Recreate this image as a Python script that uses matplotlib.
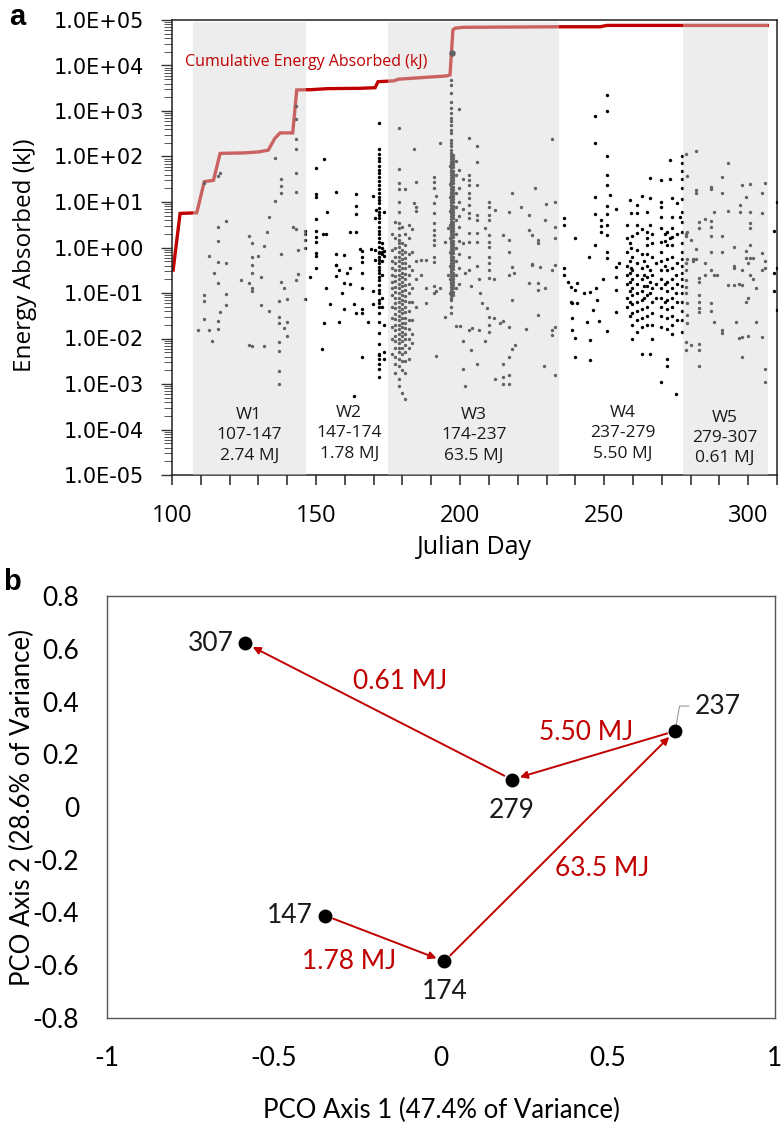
import numpy as np
import matplotlib.pyplot as plt
from matplotlib.ticker import MultipleLocator, LogLocator, FuncFormatter, NullFormatter

plt.rcParams['font.family'] = ['Open Sans', 'DejaVu Sans']

RED = '#C00000'

# ---- panel a: energy absorbed per event, log10(kJ) values by Julian day ----
# one line per day: "day: log10 values"
W1_PTS = """
109: -1.81
111: 1.42 -1.04 -1.18 -1.58
112.7: -0.19 -1.81
113.9: -2.05
114.7: -0.57
115.9: 1.58 0.44 0.14 -0.31 -0.77 -1.62 -1.8
116.8: 1.63 -1.41
118.7: 0.58 -0.35 -1.03 -1.26
124: -0.71
126.9: 0.25 -0.79 -2.14
127.8: 0.09 -0.2 -0.38 -0.55 -0.9 -0.95 -2.16
129.7: -0.19
130.9: -0.64 -1.26
131.8: 0.03 -2.16
133: 0.33
133.8: 0.68 -1.4
135.8: 1.97 1.02
137: -1.18 -1.52 -1.67 -2.07 -2.27 -2.71 -3.0
137.8: 1.5 1.35 1.2 -0.14 -0.75
139: -0.9 -1.76
139.8: -1.14 -1.63 -1.95
142: 0.44
143: 3.1 2.82 2.38 2.16 1.64 1.22 0.4 -0.71
143.9: -0.05 -0.59
146: -0.02 0.17 0.29 0.37 -1.14
"""

W2_PTS = """
148: -0.64
150: 1.74 1.17 1.12 0.63 0.36 0.24 0.13 -0.11 -0.19 -0.44
152.1: -2.23
152.3: 0.3
152.9: 1.94 -1.67
153.5: 0.3 -0.88
153.9: 0.77
154.9: -1.24
156.8: 1.21 -0.14 -0.38 -0.39 -0.63
158.1: -0.5 -1.63
159: -0.99
159.7: -0.16 -0.79 -1.36
160.9: -0.55
161.7: 0.33 -0.44
161.9: -0.8
163: -1.25 -3.26
163.8: 1.18 0.92 0.74 0.33 -1.45
165.2: -0.04
165.9: -0.55 -1.36 -1.45 -2.4
166: -0.07 -0.2 -0.31 -0.9
167.9: -1.63
169: -0.04
169.9: 1.14 -0.95 -1.24
170.5: 0.65 -0.05 -0.28
170.8: 0.83
172: 2.74 2.16 2.05 1.96 1.9 1.8 1.7 1.63 1.56 1.47 1.38 1.29 1.2 1.12 1.04 0.97 0.86 0.79 0.71 0.64 0.55 0.46 0.37 0.3 0.2 0.13 0.02 -0.09 -0.13 -0.2 -0.27 -0.35 -0.42 -0.5 -0.57 -0.64 -0.71 -0.82 -0.93 -1.0 -1.15 -1.23 -1.3 -1.45 -1.63 -1.89 -2.11 -2.33 -2.36 -2.44 -2.55 -2.66 -2.84
172.8: 0.1 0.0 -0.1 -0.15 -0.3 -0.6 -1.1 -1.3
173.5: 0.78 -0.07 -0.18 -1.7 -2.3 -2.45
"""

W3_PTS = """
176.4: 0.3 -0.05 -0.3 -0.45 -0.6 -0.75 -0.9 -1.05 -1.3 -1.55 -1.75 -2.0 -2.35
177.5: 0.55 0.2 0.0 -0.2 -0.35 -0.5 -0.62 -0.74 -0.86 -0.98 -1.1 -1.22 -1.34 -1.46 -1.58 -1.7 -1.82 -1.94 -2.06 -2.2 -2.4 -2.55 -2.75
178.7: 2.62 1.72 1.42 1.29 0.99 0.79 0.53 0.42 0.27 0.16 0.09 0.02 -0.09 -0.2 -0.3 -0.4 -0.5 -0.6 -0.7 -0.8 -0.9 -1.0 -1.1 -1.2 -1.3 -1.4 -1.5 -1.6 -1.7 -1.8 -1.9 -2.0 -2.1 -2.2 -2.3 -2.45 -2.6 -2.9 -3.05
179.9: 0.45 0.1 -0.05 -0.15 -0.25 -0.35 -0.45 -0.55 -0.65 -0.75 -0.85 -0.95 -1.05 -1.15 -1.25 -1.35 -1.45 -1.55 -1.65 -1.75 -1.85 -1.95 -2.05 -2.2 -2.35 -2.5 -2.7 -3.2
181: 1.29 0.3 0.05 -0.1 -0.22 -0.34 -0.46 -0.58 -0.7 -0.82 -0.94 -1.06 -1.18 -1.3 -1.42 -1.54 -1.66 -1.78 -1.9 -2.02 -2.14 -2.3 -2.5 -2.75 -3.32
182.2: 0.5 0.2 -0.15 -0.4 -0.6 -0.8 -1.0 -1.2 -1.4 -1.6 -1.8 -2.0 -2.2 -2.45
183.3: 0.4 -0.1 -0.5 -0.9 -1.2 -1.6 -1.9 -2.1
184: 2.17 0.97
184.8: 1.45 0.9 0.81 -0.3 -0.7 -1.3
186.6: -0.27 -0.6
188: -1.23
188.2: -0.27 -0.9
190.9: 1.54 1.45 1.3 0.97 0.75 0.53 0.39 0.28 0.16 0.05 -0.2 -0.31 -0.85 -1.0
191.7: 1.13 -0.95 -2.38
193: 2.3 -0.9
194.9: 0.13 -1.52
195.8: 0.42 -0.6
196.4: 1.8 1.4 1.1 0.8 0.5 0.2 -0.1 -0.4 -0.7 -1.0
197: 3.68 3.57 3.39 3.2 3.06 2.95 2.84 2.77 2.7 2.59 2.51 2.36 2.29 2.22 2.14 2.07 2.01 1.95 1.89 1.83 1.77 1.71 1.65 1.59 1.53 1.47 1.41 1.35 1.29 1.23 1.17 1.11 1.05 0.99 0.93 0.87 0.81 0.75 0.69 0.63 0.57 0.51 0.45 0.39 0.33 0.27 0.21 0.15 0.09 0.03 -0.03 -0.09 -0.15 -0.21 -0.27 -0.33 -0.39 -0.45 -0.51 -0.57 -0.63 -0.69 -0.75 -0.81 -0.87 -0.93 -0.99 -1.05 -1.11 -1.15 -1.3 -1.45
197.7: 2.04 1.97 1.9 1.83 1.76 1.69 1.62 1.55 1.48 1.41 1.34 1.27 1.2 1.13 1.06 0.99 0.92 0.85 0.78 0.71 0.64 0.57 0.5 0.43 0.36 0.29 0.22 0.15 0.08 0.01 -0.06 -0.13 -0.2 -0.27 -0.34 -0.41 -0.48 -0.55 -0.62 -0.69 -0.76 -0.83 -0.9 -0.97 -1.04
198.5: 1.9 1.6 1.2 0.9 0.6 0.3 0.0 -0.3 -0.6 -0.9 -1.73
199.5: 3.04 1.7 1.3 1.0 0.7 0.45 0.15 -0.15 -0.45 -0.8
200.1: -1.73
200.9: 1.5 0.85 0.1 -2.05 -2.66
201.8: -0.55 -3.04
203: 2.4 1.59 1.48 1.37 1.19 1.08 0.94 0.75 0.64 0.31 0.13 -0.2 -0.5 -1.81
203.9: -0.85 -2.25
204.2: -1.78
206: 2.22 1.87 1.37 0.71 0.6 0.31 0.13 -0.4 -2.56
206.7: -0.7 -1.81
207: -1.01
207.6: -1.23
208.6: 0.42
208.8: -2.05
209.4: -1.34
210: 0.99 0.9 0.71 0.6 0.27 0.13 0.02 -0.2 -0.35 -0.5 -0.68 -1.52 -1.7 -1.85
211.8: -0.7 -1.56
212: 0.82 -2.9
213.8: -1.67
214.8: 0.27 -1.62 -2.55 -2.84 -3.0
216.9: -0.6 -1.74 -2.4 -2.8 -2.99
217: 0.79 0.16 -0.09
218: 1.19 -0.42 -1.15 -2.22
218.6: -0.57
219.2: -2.14
221: 0.88
223: -1.8
223.8: -0.79
224: 0.71 0.38
225: 0.28 -0.36 -0.39
226: 1.3
227: 0.16 0.09 -0.79 -0.93 -1.48
227.9: -0.42
229: -2.6
229.6: 0.6 -0.9
229.9: 0.96
231.9: -0.5 -1.81 -1.92
232: 2.39
232.9: -0.38
233: 1.01 0.45 0.2 -1.74 -2.8
"""

W4_PTS = """
236: 0.64 0.5 -0.46 -0.6
237.5: -0.75
238.4: -0.86 -1.19
239: -1.23 -1.56 -1.81
240: 0.2 -0.93 -1.99 -2.4
240.6: -0.77 -1.23
243: -0.99
244.1: -1.63
244.9: -0.2
245: -0.97 -2.03 -2.47
246.2: -1.37
246.9: 2.88 2.3 1.12 0.73 0.05
247: -0.9
247.6: -1.15
248.2: -1.61
248.9: 0.6 0.48 0.35
249.5: -0.7
251: 3.36 2.99 2.0 1.59 1.37 0.91 0.73 0.5 0.27 -0.09 -0.24 -1.84
252.2: 1.15
254: 0.84 -0.42 -0.64 -0.93 -1.41
255: -0.35
258: 0.5 0.2 -0.1 -0.4 -0.6 -0.8 -1.1 -1.3
258.9: 1.04 0.1 -0.3 -0.55 -0.75 -0.95 -1.2 -1.5
259.2: 0.75 -0.02 -0.45
259.7: 0.25 -0.2 -0.5 -0.7 -0.9 -1.05 -1.25 -1.45 -1.7 -2.0
261.5: 0.93 0.75 0.5 0.31 -0.05 -0.35 -0.6 -0.8 -1.0 -1.2 -1.4 -1.6 -1.85
263: 1.13 0.4 -0.15 -0.45 -0.7 -0.95 -1.15 -1.35 -1.55 -1.75 -2.33
264: -0.3 -0.6 -0.85 -1.1
265: 0.77 0.35 0.2 0.05 -0.15 -0.4 -0.65 -0.85 -1.05 -1.3 -1.5 -1.7
265.9: 1.52 1.08 0.5 -0.5 -0.75 -1.0 -2.33
266.7: 0.3 0.1 -0.2 -0.6 -0.9 -1.2 -1.45 -1.7 -2.0
268: -0.35 -0.8 -1.1
269.9: 1.48 1.01 0.9 0.68 0.42 0.12 -0.1 -0.3 -0.5 -0.7 -0.9 -1.1 -1.3 -1.5 -1.75 -2.96
271: 0.3 0.15 -0.4 -0.8 -1.2
271.9: 0.35 0.05 -0.25 -0.5 -0.75 -0.95 -1.15 -1.35 -1.55 -1.8 -2.44 -2.6
272.7: 1.92 1.5 0.2
273.6: 1.09 0.68 0.42 0.24 0.06 -0.2 -0.45 -0.7 -0.9 -1.1 -1.3 -1.5 -1.7 -1.9
274.8: -0.6 -1.0 -3.21
275.4: 0.97 0.3 -0.35 -0.8 -1.2 -1.6
276.2: 0.68
276.9: 2.0 1.86 1.68 1.5 1.31 1.06 0.77 0.55 0.33 0.1 -0.1 -0.25 -0.4 -0.55 -0.7 -0.85 -1.0 -1.2 -1.4 -1.6 -1.85
"""

W5_PTS = """
278.3: 2.06 0.3 0.25 -0.35 -0.5 -0.71 -0.86 -1.0 -2.07 -2.25
278.8: 1.57 0.35 -0.25 -1.23 -1.48 -1.67
280: 0.16 -2.14
280.8: -0.25 -0.3
282: 2.12 1.26 1.2 -0.04 -0.26
283: 0.57 0.42 -0.68 -0.75 -1.04 -1.19 -1.34 -1.41 -2.11 -2.25 -2.6
285: 0.62 -0.35 -0.6
287: 1.34 1.28 0.58 0.46 0.26 -0.09 -0.5 -1.23 -1.4
288: 0.79 -0.6 -1.63
289: -0.6
291: 1.54 1.2 0.26 -0.1 -1.81 -1.89
293: 1.86 0.8 -0.82
295: 0.02 -0.4 -0.44 -0.82
295.6: -1.63
296.8: -0.8 -1.99
297.3: 0.93 0.77
298: 1.37 -0.5 -0.82 -1.96 -2.4
299.1: 1.12 -0.07 -0.24 -1.2
300: -0.35 -1.1 -1.94
300.8: 1.39 0.79 0.53 0.42 0.05 -0.24 -0.6
301.5: -0.24 -0.7
302.6: -0.9 -1.63
304.9: 1.2 0.75 -0.11 -0.5 -1.97
306: 1.41 -0.3 -0.46 -2.66 -2.95
309: 0.36 -0.57 -0.95
310: 1.01 -0.46 -1.37
"""

# single large event marked on the W3 column
big_day = [197.2]
big_kj = [1.9e4]

# cumulative energy absorbed (kJ)
cum_day = [100.4, 102.8, 108.6, 111.2, 114.4, 116.7, 125, 130, 133.4, 135.7, 137.5, 141.9,
           143.3, 148.5, 154, 165, 170.5, 171.5, 177, 178.6, 195.3, 196.5, 197.5, 198.2,
           201, 234, 248.6, 250.9, 306.6]
cum_kj = [0.32, 5.6, 5.8, 28, 30, 117, 120, 126, 138, 250, 330, 330,
          2900, 2950, 3100, 3150, 3250, 4400, 4600, 5000, 5900, 6200, 60000, 66000,
          69000, 71000, 71000, 76000, 76000]

win_start = [107.3, 175.0, 277.2]
win_end = [146.5, 234.2, 306.9]
win_labels = ['W1\n107-147\n2.74 MJ', 'W2\n147-174\n1.78 MJ', 'W3\n174-237\n63.5 MJ',
              'W4\n237-279\n5.50 MJ', 'W5\n279-307\n0.61 MJ']
win_label_day = [126.8, 161.5, 204.8, 256.5, 291.8]
win_label_kj = [7.5e-5, 8.2e-5, 7.5e-5, 8.2e-5, 6.5e-5]

# ---- panel b: PCO ordination ----
pco_day = ['147', '174', '237', '279', '307']
pco_x = [-0.346, 0.010, 0.701, 0.212, -0.586]
pco_y = [-0.412, -0.585, 0.288, 0.104, 0.621]
step_mj = ['1.78 MJ', '63.5 MJ', '5.50 MJ', '0.61 MJ']
mj_x = [-0.276, 0.484, 0.434, -0.122]
mj_y = [-0.586, -0.234, 0.284, 0.474]


def parse(block):
    days, vals = [], []
    for line in block.strip().splitlines():
        d, v = line.split(':')
        for s in v.split():
            days.append(float(d))
            vals.append(10 ** float(s))
    return np.array(days), np.array(vals)


fig = plt.figure(figsize=(7.81, 11.4), dpi=100)

# ================= panel a =================
ax1 = fig.add_axes([172 / 781, 1 - 475 / 1140, 605 / 781, 455 / 1140])
ax1.set_yscale('log')
ax1.set_xlim(100, 310)
ax1.set_ylim(1e-5, 1e5)

for block in [W1_PTS, W2_PTS, W3_PTS, W4_PTS, W5_PTS]:
    d, v = parse(block)
    ax1.scatter(d, v, s=6, c='black', linewidths=0, zorder=3)
ax1.scatter(big_day, big_kj, s=22, c='black', linewidths=0, zorder=3)

ax1.plot(cum_day, cum_kj, color=RED, lw=2.4, zorder=2, solid_joinstyle='miter')

# grey windows drawn over the data, so points and line look faded inside them
for s, e in zip(win_start, win_end):
    ax1.axvspan(s, e, ymax=0.996, facecolor=(216 / 255, 216 / 255, 216 / 255), alpha=0.46,
                edgecolor='none', zorder=4)

for lab, d, kj in zip(win_labels, win_label_day, win_label_kj):
    ax1.text(d, kj, lab, ha='center', va='center', fontsize=12.5, linespacing=1.35,
             color='#1a1a1a', zorder=5)

ax1.text(104.6, 1.2e4, 'Cumulative Energy Absorbed (kJ)', color=RED, fontsize=11.5,
         ha='left', va='center', zorder=5)

ax1.xaxis.set_major_locator(MultipleLocator(50))
ax1.xaxis.set_minor_locator(MultipleLocator(10))
ax1.yaxis.set_major_locator(LogLocator(base=10, numticks=20))
ax1.yaxis.set_minor_locator(LogLocator(base=10, subs=np.arange(2, 10), numticks=20))
ax1.yaxis.set_minor_formatter(NullFormatter())
ax1.yaxis.set_major_formatter(FuncFormatter(lambda v, p: f'{v:.1E}'))
ax1.tick_params(axis='x', which='both', direction='out', length=7, width=1.2,
                color='#333333', labelsize=17, pad=14)
ax1.tick_params(axis='y', which='major', direction='out', length=8, width=1.0,
                color='#333333', labelsize=15, pad=12)
ax1.tick_params(axis='y', which='minor', direction='out', length=6, width=0.7, color='#555555')
for lab in ax1.get_yticklabels():
    lab.set_family('DejaVu Sans')
for sp in ax1.spines.values():
    sp.set_color('#222222')
    sp.set_linewidth(1.1)

fig.text(474 / 781, 1 - 547 / 1140, 'Julian Day', ha='center', va='center', fontsize=18)
fig.text(25 / 781, 1 - 255 / 1140, 'Energy Absorbed (kJ)', ha='center', va='center',
         rotation=90, fontsize=17.5)
fig.text(17 / 781, 1 - 17 / 1140, 'a', ha='center', va='center', fontsize=21,
         fontweight='bold', family=['Liberation Sans', 'DejaVu Sans'])

# ================= panel b =================
ax2 = fig.add_axes([107 / 781, 1 - 1018 / 1140, 668 / 781, 422 / 1140])
ax2.set_xlim(-1, 1)
ax2.set_ylim(-0.8, 0.8)

ax2.plot(pco_x, pco_y, 'o', color='black', ms=9, zorder=4, linestyle='none')

for i in range(len(pco_x) - 1):
    ax2.annotate('', xy=(pco_x[i + 1], pco_y[i + 1]), xytext=(pco_x[i], pco_y[i]),
                 arrowprops=dict(arrowstyle='-|>', color=RED, lw=1.4, mutation_scale=11,
                                 shrinkA=6, shrinkB=6), zorder=3)

lab_font = dict(fontsize=19, family=['Lato', 'DejaVu Sans'], color='#1a1a1a')
ax2.annotate('147', (pco_x[0], pco_y[0]), xytext=(-9, 0), textcoords='offset points',
             ha='right', va='center', **lab_font)
ax2.annotate('174', (pco_x[1], pco_y[1]), xytext=(0, -13), textcoords='offset points',
             ha='center', va='top', **lab_font)
ax2.annotate('237', (pco_x[2], pco_y[2]), xytext=(14, 18), textcoords='offset points',
             ha='left', va='center',
             arrowprops=dict(arrowstyle='-', color='#999999', lw=0.8, shrinkA=2, shrinkB=4,
                             connectionstyle='angle,angleA=0,angleB=80,rad=0'),
             **lab_font)
ax2.annotate('279', (pco_x[3], pco_y[3]), xytext=(0, -13), textcoords='offset points',
             ha='center', va='top', **lab_font)
ax2.annotate('307', (pco_x[4], pco_y[4]), xytext=(-8, 0), textcoords='offset points',
             ha='right', va='center', **lab_font)

for t, x, y in zip(step_mj, mj_x, mj_y):
    ax2.text(x, y, t, ha='center', va='center', fontsize=19, color=RED,
             family=['Lato', 'DejaVu Sans'])

ax2.set_xticks([-1, -0.5, 0, 0.5, 1])
ax2.set_xticklabels(['-1', '-0.5', '0', '0.5', '1'])
ax2.set_yticks([-0.8, -0.6, -0.4, -0.2, 0, 0.2, 0.4, 0.6, 0.8])
ax2.set_yticklabels(['-0.8', '-0.6', '-0.4', '-0.2', '0', '0.2', '0.4', '0.6', '0.8'])
ax2.tick_params(axis='both', length=0, labelsize=19)
ax2.tick_params(axis='x', pad=20)
ax2.tick_params(axis='y', pad=20)
for lab in ax2.get_xticklabels() + ax2.get_yticklabels():
    lab.set_family(['Lato', 'DejaVu Sans'])
for sp in ax2.spines.values():
    sp.set_color('#555555')
    sp.set_linewidth(1.0)

fig.text(441 / 781, 1 - 1110 / 1140, 'PCO Axis 1 (47.4% of Variance)', ha='center',
         va='center', fontsize=18.5, family=['Lato', 'DejaVu Sans'])
fig.text(22 / 781, 1 - 807 / 1140, 'PCO Axis 2 (28.6% of Variance)', ha='center',
         va='center', rotation=90, fontsize=18.5, family=['Lato', 'DejaVu Sans'])
fig.text(12 / 781, 1 - 582 / 1140, 'b', ha='center', va='center', fontsize=21,
         fontweight='bold', family=['Liberation Sans', 'DejaVu Sans'])

fig.savefig('out.png', dpi=100)
